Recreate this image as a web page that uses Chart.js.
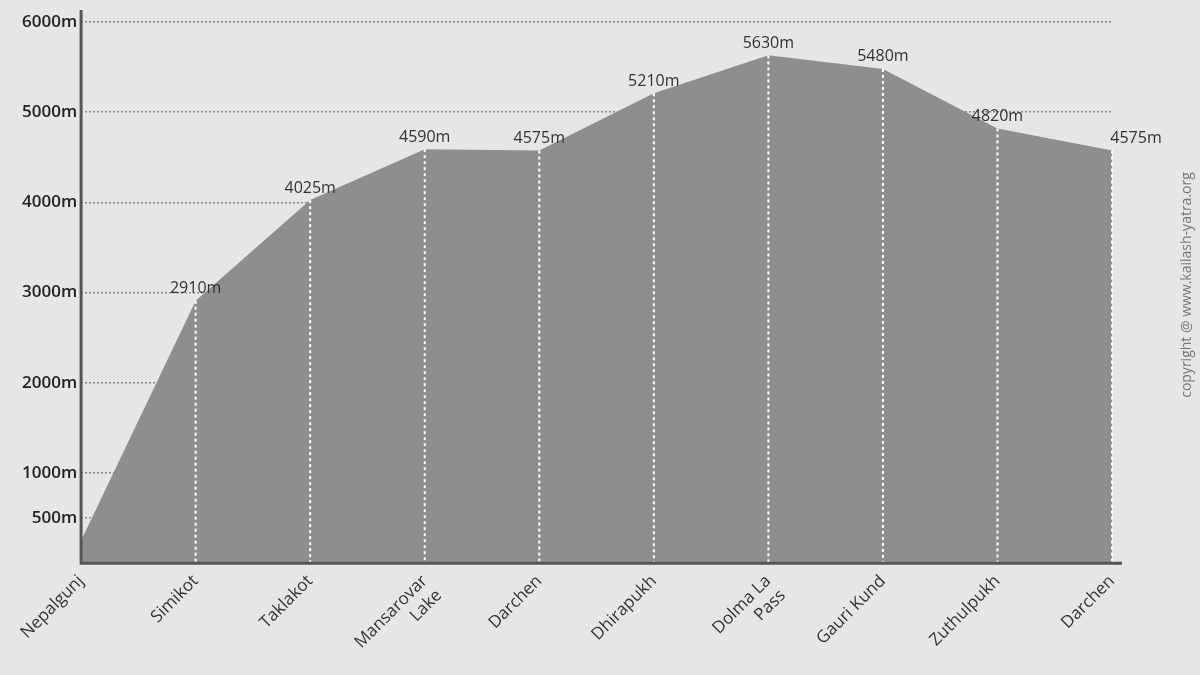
<!DOCTYPE html>
<html>
<head>
<meta charset="utf-8">
<script src="https://cdn.jsdelivr.net/npm/chart.js@4"></script>
<style>
  body { margin: 0; background: #e6e6e6; }
</style>
</head>
<body>
<canvas id="chart" width="1200" height="675"></canvas>
<script>
const places = ["Nepalgunj", "Simikot", "Taklakot", ["Mansarovar", "Lake"], "Darchen", "Dhirapukh", ["Dolma La", "Pass"], "Gauri Kund", "Zuthulpukh", "Darchen"];
const heights = [250, 2910, 4025, 4590, 4575, 5210, 5630, 5480, 4820, 4575];
const pointTags = [null, "2910m", "4025m", "4590m", "4575m", "5210m", "5630m", "5480m", "4820m", "4575m"];
const yTicks = [500, 1000, 2000, 3000, 4000, 5000, 6000];

const markers = {
    id: "markers",
    afterDatasetsDraw(chart) {
        const ctx = chart.ctx, x = chart.scales.x, y = chart.scales.y;
        ctx.save();
        heights.forEach((h, i) => {
            if (!pointTags[i]) return;
            const px = x.getPixelForValue(i), py = y.getPixelForValue(h);
            ctx.strokeStyle = "#ffffff";
            ctx.lineWidth = 2;
            ctx.setLineDash([3, 3]);
            ctx.beginPath(); ctx.moveTo(px, py); ctx.lineTo(px, y.bottom); ctx.stroke();
            ctx.setLineDash([]);
            ctx.fillStyle = "#333";
            ctx.font = "16px 'Open Sans'";
            const last = i === heights.length - 1;
            ctx.textAlign = "center";
            ctx.textBaseline = "bottom";
            ctx.fillText(pointTags[i], last ? px + 24 : px, py - 4);
        });
        ctx.strokeStyle = "#555"; ctx.lineWidth = 3;
        ctx.beginPath(); ctx.moveTo(x.left, y.top - 12); ctx.lineTo(x.left, y.bottom); ctx.lineTo(x.right + 10, y.bottom); ctx.stroke();
        ctx.translate(1187, 285); ctx.rotate(-Math.PI / 2);
        ctx.fillStyle = "#777"; ctx.font = "14px 'Open Sans'"; ctx.textAlign = "center"; ctx.textBaseline = "middle";
        ctx.fillText("copyright @ www.kailash-yatra.org", 0, 0);
        ctx.restore();
    }
};

new Chart(document.getElementById("chart"), {
    type: "line",
    data: { labels: places, datasets: [{ data: heights, fill: "start", backgroundColor: "#8e8e8e", borderWidth: 0, pointRadius: 0, tension: 0 }] },
    options: {
        responsive: false, animation: false,
        layout: { padding: { top: 22, right: 88, left: 18, bottom: 0 } },
        plugins: { legend: { display: false }, tooltip: { enabled: false } },
        scales: {
            x: {
                offset: false,
                grid: { display: false, drawTicks: false },
                border: { display: false },
                ticks: { autoSkip: false, color: "#333", font: { family: "Open Sans", size: 17 }, minRotation: 45, maxRotation: 45, padding: 8 }
            },
            y: {
                min: 0, max: 6000,
                afterBuildTicks: s => { s.ticks = yTicks.map(v => ({ value: v })); },
                grid: { color: "#888", lineWidth: 1.5, tickLength: 0 },
                border: { display: false, dash: [2, 2] },
                ticks: { autoSkip: false, color: "#222", font: { family: "Open Sans", size: 17, weight: "600" }, padding: 4, callback: v => v + "m" }
            }
        }
    },
    plugins: [markers]
});
</script>
</body>
</html>
